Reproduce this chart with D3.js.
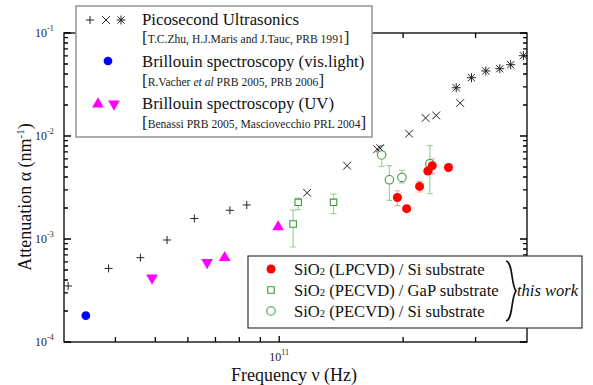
<!DOCTYPE html>
<html>
<head>
<meta charset="utf-8">
<script src="https://cdn.jsdelivr.net/npm/d3@7"></script>
<style>
  body { margin: 0; background: #fff; }
  svg { display: block; font-family: "Liberation Serif", "Times New Roman", serif; }
</style>
</head>
<body>
<div id="chart"></div>
<script>
// axis domains and ticks
const xDomain = [3e10, 4e11];
const yDomain = [1e-4, 1e-1];
const xTickValues = [4e10, 5e10, 6e10, 7e10, 8e10, 9e10, 1e11, 2e11, 3e11];
const xTickLabels = [{ v: 1e11, base: "10", exp: "11" }];
const yTickLabels = [
  { v: 1e-4, base: "10", exp: "-4" },
  { v: 1e-3, base: "10", exp: "-3" },
  { v: 1e-2, base: "10", exp: "-2" },
  { v: 1e-1, base: "10", exp: "-1" }
];

// [frequency (Hz), attenuation (nm^-1)]
const picoPlus = [[3.07e10, 3.50e-4], [3.85e10, 5.18e-4], [4.6e10, 6.58e-4], [5.34e10, 9.78e-4],
  [6.22e10, 1.58e-3], [7.59e10, 1.90e-3], [8.34e10, 2.14e-3]];
const picoCross = [[1.169e11, 2.81e-3], [1.462e11, 5.15e-3], [1.730e11, 7.44e-3], [1.759e11, 7.61e-3],
  [2.068e11, 1.053e-2], [2.268e11, 1.496e-2], [2.407e11, 1.585e-2], [2.753e11, 2.09e-2]];
const picoStar = [[2.692e11, 2.94e-2], [2.932e11, 3.68e-2], [3.177e11, 4.28e-2], [3.435e11, 4.50e-2],
  [3.651e11, 4.92e-2], [3.92e11, 6.02e-2]];
const brillVis = [[3.39e10, 1.80e-4]];
const brillUvUp = [[7.37e10, 6.58e-4], [9.94e10, 1.31e-3]];
const brillUvDown = [[4.91e10, 4.18e-4], [6.68e10, 5.93e-4]];

// [frequency, attenuation, lower, upper]
const lpcvdSi = [[1.937e11, 2.53e-3, 2.11e-3, 2.94e-3], [2.04e11, 1.97e-3, 1.90e-3, 2.04e-3],
  [2.193e11, 3.24e-3, 2.86e-3, 3.62e-3], [2.297e11, 4.57e-3, 4.30e-3, 4.85e-3],
  [2.354e11, 5.15e-3, 4.28e-3, 5.98e-3], [2.578e11, 4.95e-3, 4.80e-3, 5.10e-3]];
const pecvdGaP = [[1.081e11, 1.40e-3, 8.36e-4, 1.91e-3], [1.112e11, 2.27e-3, 1.93e-3, 2.50e-3],
  [1.355e11, 2.27e-3, 1.76e-3, 2.73e-3]];
const pecvdSi = [[1.774e11, 6.54e-3, 5.07e-3, 8.05e-3], [1.852e11, 3.76e-3, 2.37e-3, 5.15e-3],
  [1.987e11, 3.96e-3, 3.50e-3, 4.63e-3], [2.323e11, 5.38e-3, 2.75e-3, 8.05e-3]];

const width = 593, height = 385;
const svg = d3.select('#chart').append('svg')
  .attr('width', width)
  .attr('height', height);

const x = d3.scaleLog().domain(xDomain).range([64, 527]);
const y = d3.scaleLog().domain(yDomain).range([342, 33]);
const [x0, x1] = x.range(), [y0, y1] = y.range();

// stroke symbols
const plusSym = { draw(c, s) { const r = Math.sqrt(s) / 2; c.moveTo(-r, 0); c.lineTo(r, 0); c.moveTo(0, -r); c.lineTo(0, r); } };
const timesSym = { draw(c, s) { const r = Math.sqrt(s) / 2; c.moveTo(-r, -r); c.lineTo(r, r); c.moveTo(-r, r); c.lineTo(r, -r); } };
const starSym = { draw(c, s) { const r = Math.sqrt(s) / 2; c.moveTo(-r, -r); c.lineTo(r, r); c.moveTo(-r, r); c.lineTo(r, -r); c.moveTo(0, -r * 1.25); c.lineTo(0, r * 1.25); c.moveTo(-r * 1.25, 0); c.lineTo(r * 1.25, 0); } };

// frame
const frame = svg.append('g').attr('stroke', '#000').attr('stroke-width', 1.3).attr('fill', 'none');
frame.append('rect').attr('x', x0).attr('y', y1).attr('width', x1 - x0).attr('height', y0 - y1);

// x ticks (bottom and top, inward)
frame.selectAll('.xt').data(xTickValues).enter().append('path')
  .attr('d', d => `M${x(d)},${y0}v${d === 1e11 ? -6 : -5}M${x(d)},${y1}v${d === 1e11 ? 6 : 5}`);

// y ticks (left and right, inward)
const yTicks = y.ticks();
frame.selectAll('.yt').data(yTicks).enter().append('path')
  .attr('d', d => {
    const major = Math.abs(Math.log10(d) - Math.round(Math.log10(d))) < 1e-6;
    const len = major ? 7 : 4;
    return `M${x0},${y(d)}h${len}M${x1},${y(d)}h${-len}`;
  });

// tick labels
const tl = svg.append('g').attr('fill', '#222').attr('font-size', 12);
tl.selectAll('.yl').data(yTickLabels).enter().append('text')
  .attr('x', 35).attr('y', d => y(d.v) + 4)
  .call(t => t.append('tspan').text(d => d.base))
  .call(t => t.append('tspan').attr('font-size', 8).attr('dy', -6).text(d => d.exp));
tl.selectAll('.xl').data(xTickLabels).enter().append('text')
  .attr('x', d => x(d.v) - 10).attr('y', 361)
  .call(t => t.append('tspan').text(d => d.base))
  .call(t => t.append('tspan').attr('font-size', 8).attr('dy', -6).text(d => d.exp));

// axis titles
svg.append('text')
  .attr('x', 294).attr('y', 381)
  .attr('text-anchor', 'middle').attr('font-size', 18).attr('fill', '#111')
  .text('Frequency \u03bd (Hz)');
svg.append('text')
  .attr('transform', 'translate(31,197) rotate(-90)')
  .attr('text-anchor', 'middle').attr('font-size', 18).attr('fill', '#111')
  .call(t => t.append('tspan').text('Attenuation \u03b1 (nm'))
  .call(t => t.append('tspan').attr('font-size', 11).attr('dy', -7).text('-1'))
  .call(t => t.append('tspan').attr('dy', 7).text(')'));

// error bars
function errorBars(data, color) {
  const g = svg.append('g').attr('stroke', color).attr('stroke-width', 1.2).attr('fill', 'none');
  g.selectAll('path').data(data).enter().append('path')
    .attr('d', d => {
      const cx = x(d[0]), lo = y(d[2]), hi = y(d[3]);
      return `M${cx},${lo}V${hi}M${cx - 3},${lo}h6M${cx - 3},${hi}h6`;
    });
}
errorBars(pecvdGaP, '#9fd39f');
errorBars(pecvdSi, '#9fd39f');
errorBars(lpcvdSi, '#f7a3a3');

// markers
function markers(data, type, size, attrs, rotate) {
  const g = svg.append('g');
  const sel = g.selectAll('path').data(data).enter().append('path')
    .attr('transform', d => `translate(${x(d[0])},${y(d[1])})${rotate ? ' rotate(180)' : ''}`)
    .attr('d', d3.symbol().type(type).size(size));
  Object.entries(attrs).forEach(([k, v]) => sel.attr(k, v));
}
markers(picoPlus, plusSym, 64, { stroke: '#222', 'stroke-width': 1, fill: 'none' });
markers(picoCross, timesSym, 60, { stroke: '#222', 'stroke-width': 1, fill: 'none' });
markers(picoStar, starSym, 52, { stroke: '#222', 'stroke-width': 1, fill: 'none' });
markers(brillVis, d3.symbolCircle, 60, { fill: '#0000ff' });
markers(brillUvUp, d3.symbolTriangle, 60, { fill: '#ff00ff' });
markers(brillUvDown, d3.symbolTriangle, 60, { fill: '#ff00ff' }, true);
markers(pecvdGaP, d3.symbolSquare, 42, { fill: '#fff', stroke: '#3a9a3a', 'stroke-width': 1.1 });
markers(pecvdSi, d3.symbolCircle, 56, { fill: '#fff', stroke: '#3a9a3a', 'stroke-width': 1.1 });
markers(lpcvdSi, d3.symbolCircle, 64, { fill: '#ff0000' });

// legend 1 (literature)
const leg1 = svg.append('g');
leg1.append('rect').attr('x', 76).attr('y', 6).attr('width', 296).attr('height', 131)
  .attr('fill', '#fff').attr('stroke', '#999').attr('stroke-width', 1.6);
const sym = (g, type, size, cx, cy, attrs, rot) => {
  const p = g.append('path').attr('transform', `translate(${cx},${cy})${rot ? ' rotate(180)' : ''}`)
    .attr('d', d3.symbol().type(type).size(size)());
  Object.entries(attrs).forEach(([k, v]) => p.attr(k, v));
};
const blk = { stroke: '#222', 'stroke-width': 1, fill: 'none' };
sym(leg1, plusSym, 64, 90, 20, blk);
sym(leg1, timesSym, 60, 106, 20, blk);
sym(leg1, starSym, 52, 121, 20, blk);
sym(leg1, d3.symbolCircle, 60, 108, 61, { fill: '#0000ff' });
sym(leg1, d3.symbolTriangle, 60, 98, 104, { fill: '#ff00ff' });
sym(leg1, d3.symbolTriangle, 60, 114, 104, { fill: '#ff00ff' }, true);

const leg1Titles = [['Picosecond Ultrasonics', 25], ['Brillouin spectroscopy (vis.light)', 67], ['Brillouin spectroscopy (UV)', 109]];
leg1.selectAll('.t').data(leg1Titles).enter().append('text')
  .attr('x', 142).attr('y', d => d[1]).attr('font-size', 16.8).attr('fill', '#111')
  .text(d => d[0]);

const refs = [
  [['T.C.Zhu, H.J.Maris and J.Tauc, PRB 1991', false]],
  [['R.Vacher ', false], ['et al', true], [' PRB 2005, PRB 2006', false]],
  [['Benassi PRB 2005, Masciovecchio PRL 2004', false]]
];
const refY = [43, 86, 128];
refs.forEach((parts, i) => {
  const t = leg1.append('text').attr('x', 142).attr('y', refY[i]).attr('fill', '#222').attr('font-size', 11.6);
  t.append('tspan').attr('font-size', 17).text('[');
  parts.forEach(p => t.append('tspan').attr('font-style', p[1] ? 'italic' : 'normal').text(p[0]));
  t.append('tspan').attr('font-size', 17).text(']');
});

// legend 2 (this work)
const leg2 = svg.append('g');
leg2.append('rect').attr('x', 248).attr('y', 256).attr('width', 334).attr('height', 72)
  .attr('fill', '#fff').attr('stroke', '#333').attr('stroke-width', 1.2);
sym(leg2, d3.symbolCircle, 64, 271, 269, { fill: '#ff0000' });
sym(leg2, d3.symbolSquare, 42, 271, 290, { fill: '#fff', stroke: '#3a9a3a', 'stroke-width': 1.1 });
sym(leg2, d3.symbolCircle, 56, 271, 311, { fill: '#fff', stroke: '#3a9a3a', 'stroke-width': 1.1 });
const leg2Rows = [['(LPCVD) / Si substrate', 275], ['(PECVD) / GaP substrate', 296], ['(PECVD) / Si substrate', 317]];
leg2.selectAll('.t').data(leg2Rows).enter().append('text')
  .attr('x', 294).attr('y', d => d[1]).attr('font-size', 16.6).attr('fill', '#111')
  .call(t => t.append('tspan').text('SiO'))
  .call(t => t.append('tspan').attr('font-size', 10.5).text('2'))
  .call(t => t.append('tspan').text(d => ' ' + d[0]));

// curly brace
const bx = 506, bt = 261, bb = 321, bm = (bt + bb) / 2;
leg2.append('path')
  .attr('d', `M${bx},${bt} C${bx + 7},${bt + 1} ${bx + 5},${bm - 6} ${bx + 10},${bm} C${bx + 5},${bm + 6} ${bx + 7},${bb - 1} ${bx},${bb}`)
  .attr('fill', 'none').attr('stroke', '#111').attr('stroke-width', 1.7);
leg2.append('text').attr('x', 517).attr('y', 296).attr('font-size', 16.5)
  .attr('font-style', 'italic').attr('fill', '#111').text('this work');
</script>
</body>
</html>
